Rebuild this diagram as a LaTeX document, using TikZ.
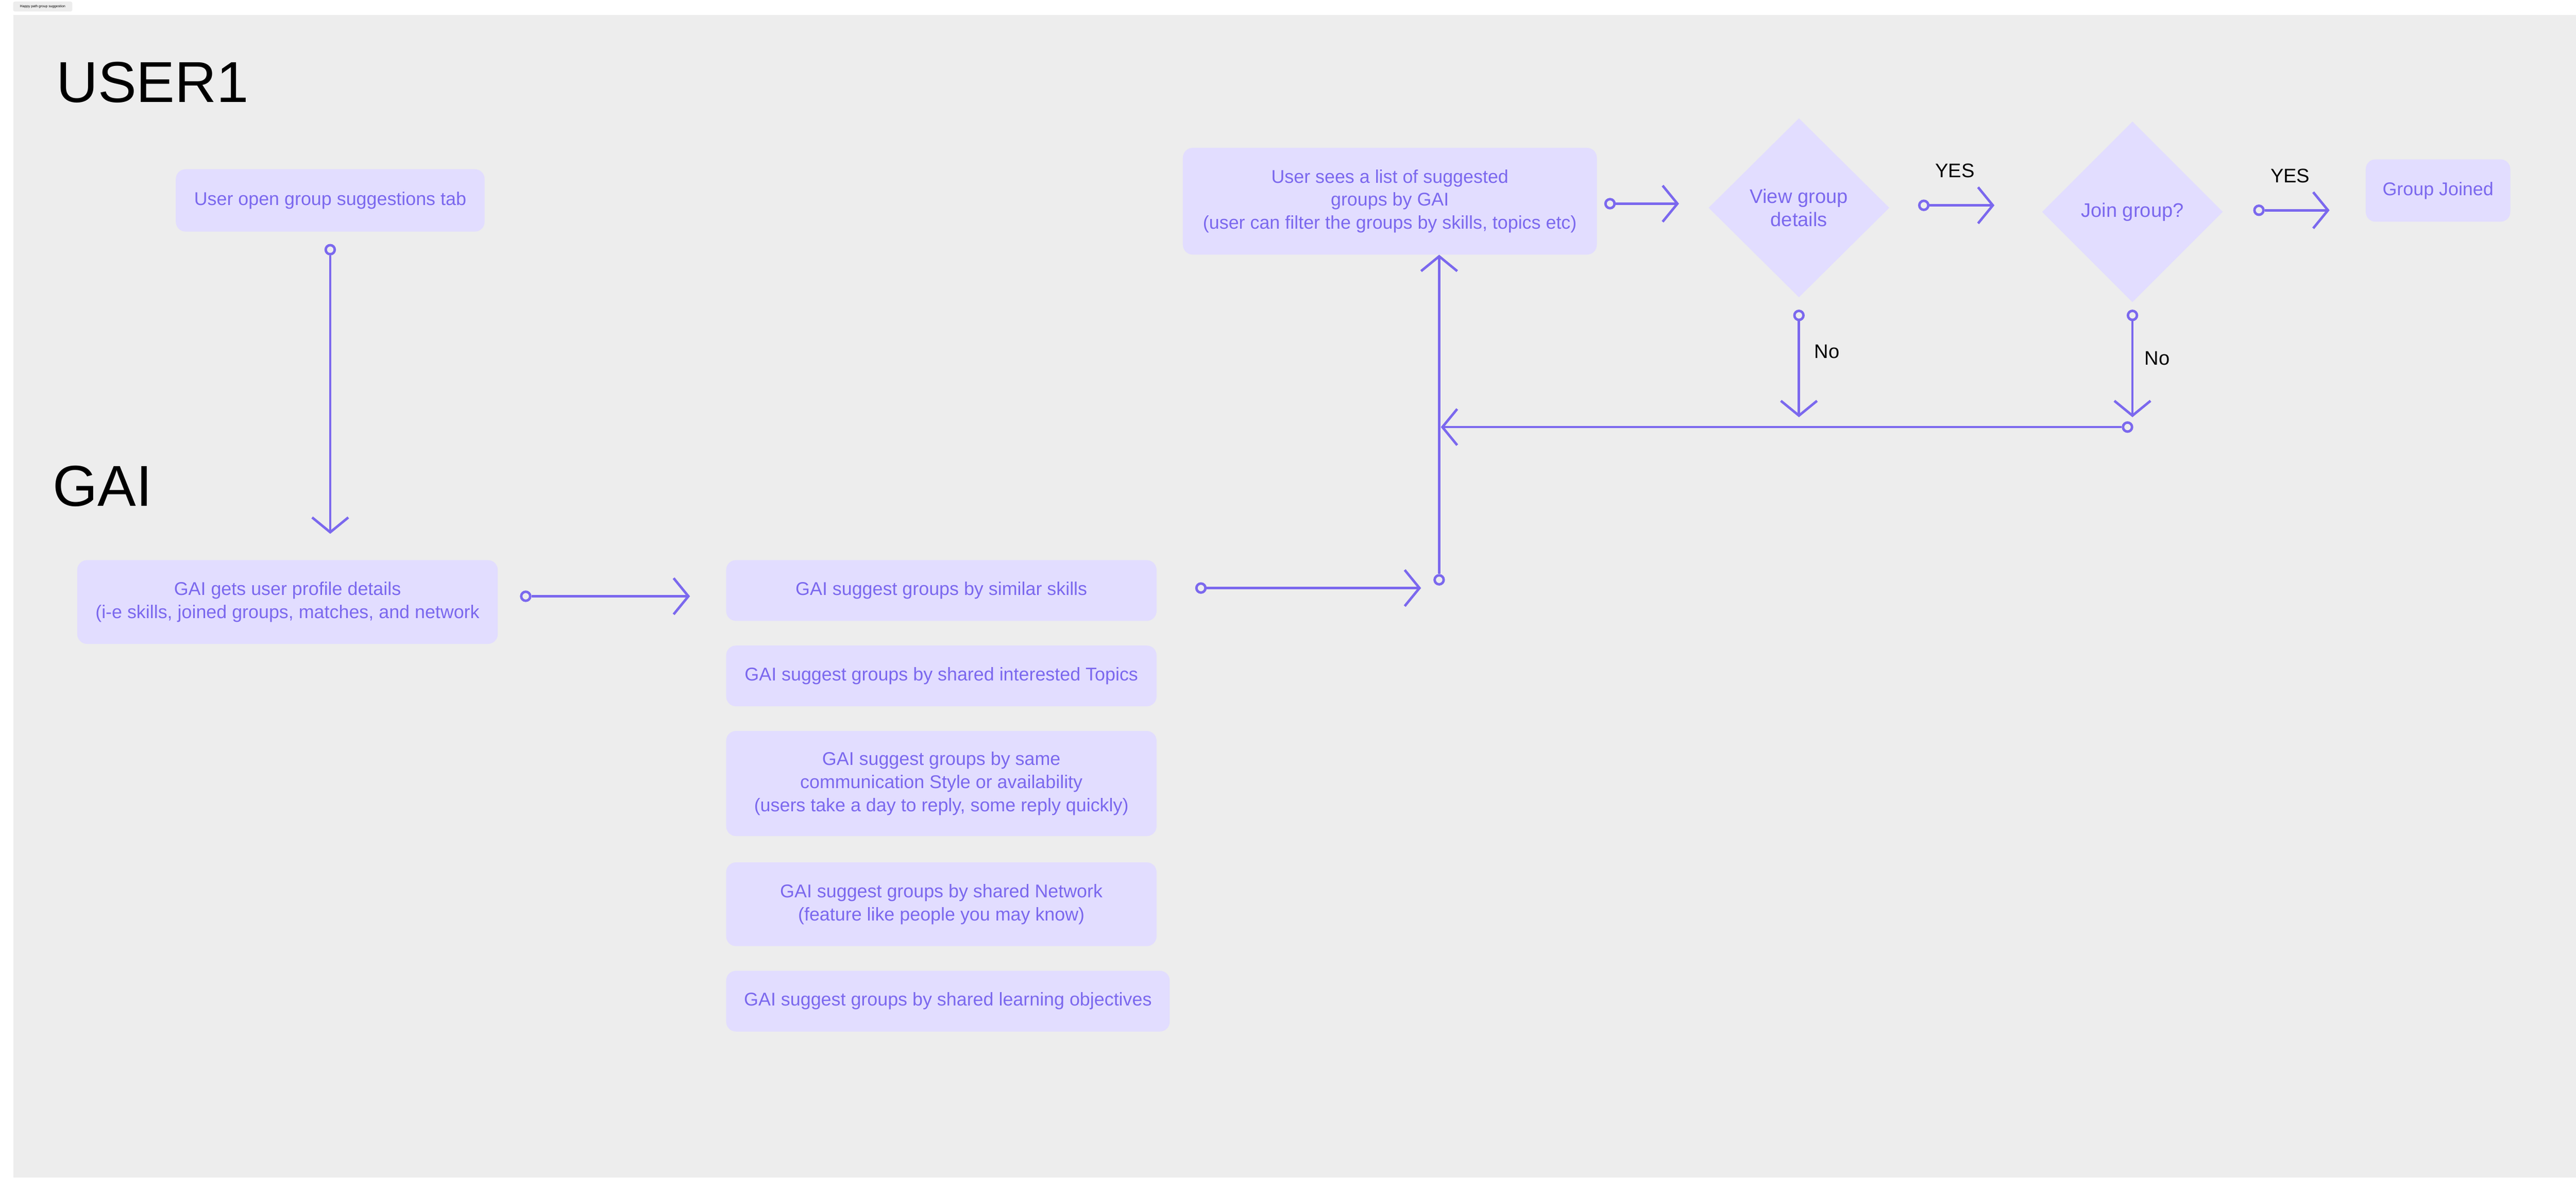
\documentclass[tikz,border=0pt]{standalone}
\usepackage{fontspec}
\setmainfont{Liberation Sans}
\usetikzlibrary{arrows.meta,shapes.geometric}
\definecolor{bg}{HTML}{EDEDED}
\definecolor{boxfill}{HTML}{E2DDFF}
\definecolor{ink}{HTML}{7B68EE}
\tikzset{
  box/.style={fill=boxfill,rounded corners=0.6cm,text=ink,align=center,font=\fontsize{32}{40}\selectfont,inner sep=0pt},
  dia/.style={diamond,fill=boxfill,text=ink,align=center,font=\fontsize{34}{40}\selectfont,inner sep=0pt,aspect=1},
  conn/.style={draw=ink,line width=4.3pt,-{Straight Barb[length=0.9cm,width=2.2cm,line width=4.3pt]}},
  circ/.style={circle,draw=ink,line width=4.3pt,fill=bg,minimum size=0.55cm,inner sep=0pt},
  lane/.style={font=\fontsize{100}{110}\selectfont,anchor=west},
  lbl/.style={font=\fontsize{34}{40}\selectfont}
}
\begin{document}
\begin{tikzpicture}[x=0.1cm,y=-0.1cm]
\useasboundingbox (0,0) rectangle (1568,726);
\fill[white] (0,0) rectangle (1568,726);
\node[fill=bg,rounded corners=0.1cm,font=\fontsize{6}{7}\selectfont,minimum width=3.6cm,minimum height=0.6cm,inner sep=0pt] (tag) at (26,4) {Happy path group suggestion};
\fill[bg] (8,9) rectangle (1568,717);
\node[lane] (u1) at (33,50) {USER1};
\node[lane] (gai) at (31,296) {GAI};

\node[box,minimum width=18.8cm,minimum height=3.8cm] (a) at (201,122) {User open group suggestions tab};
\node[box,minimum width=25.6cm,minimum height=5.1cm] (b) at (175,366.5) {GAI gets user profile details\\(i-e skills, joined groups, matches, and network};
\node[box,minimum width=26.2cm,minimum height=3.7cm] (c1) at (573,359.5) {GAI suggest groups by similar skills};
\node[box,minimum width=26.2cm,minimum height=3.7cm] (c2) at (573,411.5) {GAI suggest groups by shared interested Topics};
\node[box,minimum width=26.2cm,minimum height=6.4cm] (c3) at (573,477) {GAI suggest groups by same\\communication Style or availability\\(users take a day to reply, some reply quickly)};
\node[box,minimum width=26.2cm,minimum height=5.1cm] (c4) at (573,550.5) {GAI suggest groups by shared Network\\(feature like people you may know)};
\node[box,minimum width=27cm,minimum height=3.7cm] (c5) at (577,609.5) {GAI suggest groups by shared learning objectives};
\node[box,minimum width=25.2cm,minimum height=6.5cm] (d) at (846,122.5) {User sees a list of suggested\\groups by GAI\\(user can filter the groups by skills, topics etc)};
\node[dia,minimum width=11cm,minimum height=10.9cm] (v) at (1095,126.5) {View group\\details};
\node[dia,minimum width=11cm,minimum height=11cm] (j) at (1298,129) {Join group?};
\node[box,minimum width=8.8cm,minimum height=3.8cm] (e) at (1484,116) {Group Joined};

\node[circ] (s1) at (201,152) {};
\coordinate (t1) at (201,325);
\draw[conn] (s1) -- (t1);
\node[circ] (s2) at (320,363) {};
\coordinate (t2) at (420,363);
\draw[conn] (s2) -- (t2);
\node[circ] (s3) at (731,358) {};
\coordinate (t3) at (865,358);
\draw[conn] (s3) -- (t3);
\node[circ] (s4) at (876,353) {};
\draw[conn] (s4) -- (d.south -| s4);
\node[circ] (s5) at (980,124) {};
\coordinate (t5) at (1022,124);
\draw[conn] (s5) -- (t5);
\node[circ] (s6) at (1171,125) {};
\coordinate (t6) at (1214,125);
\draw[conn] (s6) -- (t6);
\node[lbl] (y1) at (1190,104) {YES};
\node[circ] (s7) at (1375,128) {};
\coordinate (t7) at (1418,128);
\draw[conn] (s7) -- (t7);
\node[lbl] (y2) at (1394,107) {YES};
\node[circ] (s8) at (1095,192) {};
\coordinate (t8) at (1095,254);
\draw[conn] (s8) -- (t8);
\node[lbl] (n1) at (1112,214) {No};
\node[circ] (s9) at (1298,192) {};
\coordinate (t9) at (1298,254);
\draw[conn] (s9) -- (t9);
\node[lbl] (n2) at (1313,218) {No};
\node[circ] (s10) at (1295,260) {};
\coordinate (t10) at (877,260);
\draw[conn] (s10) -- (t10);
\end{tikzpicture}
\end{document}
